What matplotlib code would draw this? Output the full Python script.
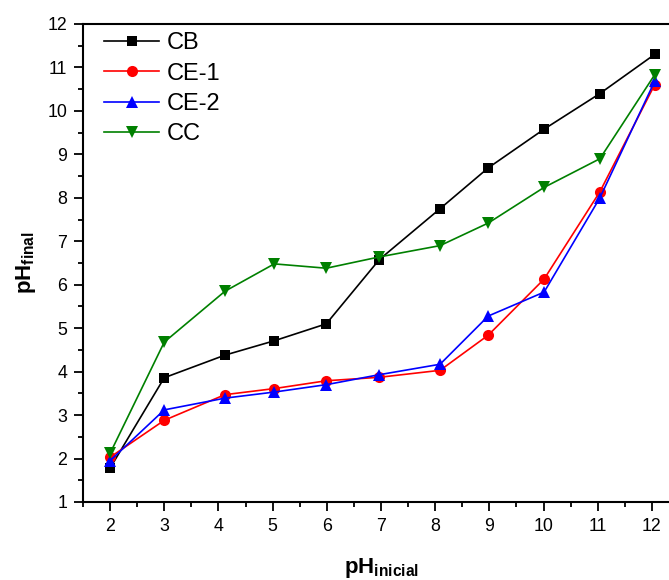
import numpy as np
import matplotlib
matplotlib.use("Agg")
import matplotlib.pyplot as plt
from matplotlib.ticker import MultipleLocator

plt.rcParams['font.family'] = ['Liberation Sans', 'DejaVu Sans']
plt.rcParams['mathtext.fontset'] = 'custom'
plt.rcParams['mathtext.rm'] = 'Liberation Sans'
plt.rcParams['mathtext.bf'] = 'Liberation Sans:bold'

# initial pH (x) and final pH for each sample
ph_inicial = [2.0, 3.0, 4.12, 5.03, 5.99, 6.97, 8.09, 8.98, 10.01, 11.04, 12.05]
cb = [1.78, 3.86, 4.38, 4.71, 5.10, 6.58, 7.75, 8.69, 9.58, 10.40, 11.30]
ce1 = [2.03, 2.88, 3.47, 3.61, 3.79, 3.87, 4.03, 4.84, 6.13, 8.14, 10.60]
ce2 = [1.95, 3.12, 3.39, 3.53, 3.70, 3.93, 4.17, 5.28, 5.83, 8.00, 10.68]
cc = [2.12, 4.68, 5.85, 6.48, 6.38, 6.64, 6.90, 7.42, 8.24, 8.90, 10.83]

series = [('CB', cb, 'black', 's', 7.5),
          ('CE-1', ce1, 'red', 'o', 8),
          ('CE-2', ce2, 'blue', '^', 8.5),
          ('CC', cc, 'green', 'v', 8.5)]

fig = plt.figure(figsize=(6.69, 5.8), dpi=100)
ax = fig.add_axes([83/669, 78/580, 596/669, 478/580])

for label, vals, col, mk, ms in series:
    ax.plot(ph_inicial, vals, color=col, marker=mk, markersize=ms,
            markeredgewidth=0, linewidth=1.2, label=label)

ax.set_xlim(1.5, 12.5)
ax.set_ylim(1, 12)
ax.xaxis.set_major_locator(MultipleLocator(1))
ax.xaxis.set_minor_locator(MultipleLocator(0.5))
ax.yaxis.set_major_locator(MultipleLocator(1))
ax.yaxis.set_minor_locator(MultipleLocator(0.5))
ax.tick_params(which='major', direction='out', length=6.5, width=1.3, labelsize=12.8, pad=5)
ax.tick_params(which='minor', direction='out', length=3.5, width=1.3)
ax.tick_params(top=False, right=False, which='both')

for s in ['left', 'bottom', 'top']:
    ax.spines[s].set_linewidth(1.5)
ax.spines['right'].set_visible(False)

ax.set_xlabel(r'$\mathbf{pH}_{\mathbf{inicial}}$', fontsize=16)
ax.xaxis.set_label_coords(0.5, -0.112)
ax.set_ylabel(r'$\mathbf{pH}_{\mathbf{final}}$', fontsize=16)
ax.yaxis.set_label_coords(-0.075, 0.5)

ax.legend(loc='upper left', frameon=False, fontsize=17, handlelength=2.35,
          handletextpad=0.3, labelspacing=0.36, borderaxespad=0,
          borderpad=0, bbox_to_anchor=(21/596, 1 - 8/478))

fig.savefig('out.png', dpi=100)
